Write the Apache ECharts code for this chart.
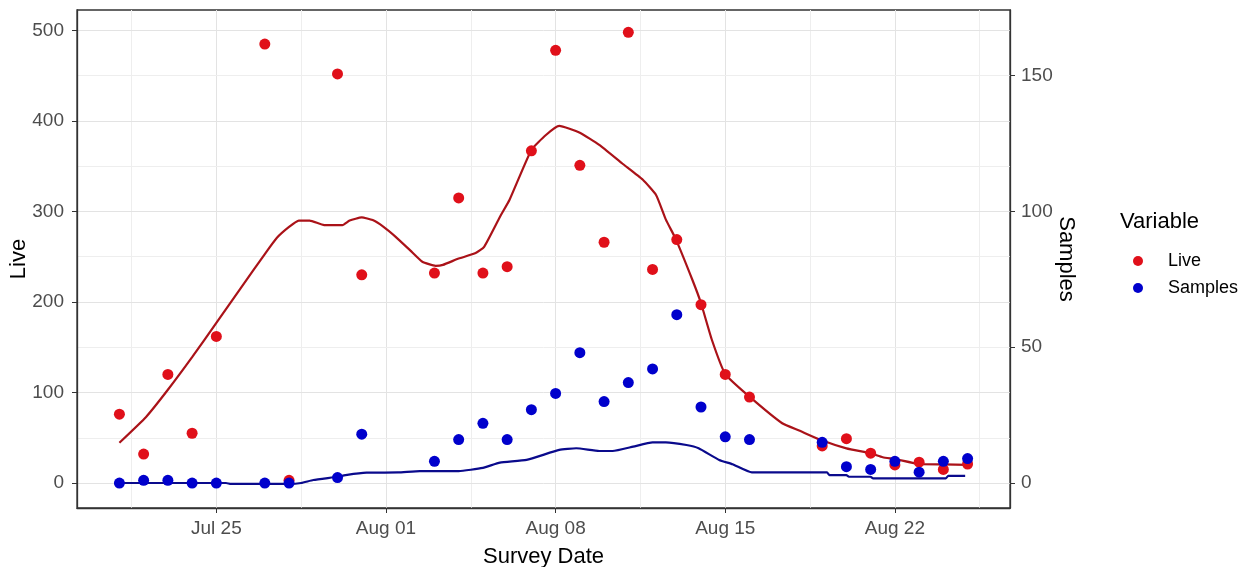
<!DOCTYPE html>
<html>
<head>
<meta charset="utf-8">
<script src="https://cdn.jsdelivr.net/npm/echarts@6/dist/echarts.min.js"></script>
<style>html,body{margin:0;padding:0;background:#fff}#c{width:1260px;height:567px}</style>
</head>
<body>
<div id="c"></div>
<script>
// ---- data ----
const surveyDates = ['2021-07-21','2021-07-22','2021-07-23','2021-07-24','2021-07-25','2021-07-27','2021-07-28','2021-07-30','2021-07-31',
  '2021-08-03','2021-08-04','2021-08-05','2021-08-06','2021-08-07','2021-08-08','2021-08-09','2021-08-10','2021-08-11','2021-08-12',
  '2021-08-13','2021-08-14','2021-08-15','2021-08-16','2021-08-19','2021-08-20','2021-08-21','2021-08-22','2021-08-23','2021-08-24','2021-08-25'];
const liveValues = [76,32,120,55,162,485,3,452,230,232,315,232,239,367,478,351,266,498,236,269,197,120,95,41,49,33,20,23,15,21];
const sampleValues = [0,1,1,0,0,0,0,2,18,8,16,22,16,27,33,48,30,37,42,62,28,17,16,15,6,5,8,4,8,9];

// smoothed trend lines: day offset from Jul 25, value
const liveTrendDays = [-4,-2.9,-2,-1,0,1,2,2.5,3,3.4,3.85,4.45,5.2,5.5,6,6.45,6.9,7.4,8,8.5,9.05,9.35,10,10.7,11.05,11.7,12.1,13,13.6,14.15,15,15.8,16.75,17.6,18.15,18.55,18.95,19.65,20,20.45,21,22,23.35,24.05,24.95,26,27,27.5,28,29,30,31];
const liveTrendValues = [44.5,73,103,139,177,215,253,271,283,290,290,285,285,290,293.5,290.5,283,272,257,244.5,240,241,248,254,261,294,313,368,384.5,394.5,387,373.5,353,335,318,291,270,224,198.6,158,120.4,95.4,66,58,47.5,38.3,32.8,28.5,26.5,21,20.5,20];
const sampleTrendDays = [-4,0.4,0.6,3,3.5,4,5,5.4,6.2,7.5,8.4,10,11,11.7,12.8,14.15,14.85,15.8,16.35,17.2,18,18.55,19.4,19.9,20.75,21.3,22.1,25.2,25.3,26,26.1,27,27.1,30.1,30.2,30.9];
const sampleTrendValues = [0,0,-0.35,-0.35,0,1.1,2.3,3,3.8,3.9,4.4,4.4,5.6,7.5,8.5,12.2,12.8,11.8,11.8,13.4,15,15,14,12.8,8.5,6.9,3.9,3.9,2.9,2.9,2.3,2.3,1.7,1.7,2.6,2.6];

// axis ticks (x in days from Jul 25)
const xTickDays = [0,7,14,21,28];
const xTickLabels = ['Jul 25','Aug 01','Aug 08','Aug 15','Aug 22'];
const xMinorGridDays = [-3.5,3.5,10.5,17.5,24.5,31.5];
const liveTicks = [0,100,200,300,400,500];
const liveMinorGrid = [50,150,250,350,450];
const sampleTicks = [0,50,100,150];

// ---- build ----
const DAY = 86400000;
const toTs = s => { const p = s.split('-').map(Number); return Date.UTC(p[0], p[1]-1, p[2]); };
const base = toTs('2021-07-25');
const toDay = s => Math.round((toTs(s) - base) / DAY);
const xMin = -5.75, xMax = 32.75;
const yMin = -27.6, yMax = 522.6;
const FONT = 'Liberation Sans, Arial, sans-serif';

const gridLines = [];
xTickDays.forEach(d => gridLines.push({xAxis: d, lineStyle: {color: '#E3E3E3', width: 1, type: 'solid'}}));
xMinorGridDays.forEach(d => gridLines.push({xAxis: d, lineStyle: {color: '#EEEEEE', width: 1, type: 'solid'}}));
liveTicks.forEach(v => gridLines.push({yAxis: v, lineStyle: {color: '#E3E3E3', width: 1, type: 'solid'}}));
liveMinorGrid.forEach(v => gridLines.push({yAxis: v, lineStyle: {color: '#EEEEEE', width: 1, type: 'solid'}}));

const chart = echarts.init(document.getElementById('c'), null, {renderer: 'canvas'});
chart.setOption({
  animation: false,
  textStyle: {fontFamily: FONT},
  title: {text: 'Variable', left: 1120, top: 211, padding: 0,
    textStyle: {fontSize: 22, fontWeight: 'normal', color: '#000', fontFamily: FONT}},
  legend: {
    data: ['Live', 'Samples'], orient: 'vertical', left: 1128, top: 247,
    itemWidth: 10, itemHeight: 10, itemGap: 9, icon: 'circle',
    textStyle: {fontSize: 18, color: '#000', padding: [0, 0, 0, 20], fontFamily: FONT}
  },
  grid: {left: 77, right: 250, top: 10, bottom: 59, outerBoundsMode: 'none', containLabel: false,
    show: true, borderColor: '#333', borderWidth: 1.3, backgroundColor: '#fff'},
  xAxis: {
    type: 'value', min: xMin, max: xMax,
    axisLine: {show: true, onZero: false, lineStyle: {color: '#333', width: 1.3}},
    axisTick: {show: true, customValues: xTickDays, length: 5, lineStyle: {color: '#333'}},
    axisLabel: {customValues: xTickDays, fontSize: 19, color: '#4D4D4D', margin: 11, fontFamily: FONT,
      formatter: v => { const i = xTickDays.indexOf(v); return i >= 0 ? xTickLabels[i] : ''; }},
    splitLine: {show: false},
    name: 'Survey Date', nameLocation: 'middle', nameGap: 38,
    nameTextStyle: {fontSize: 22, color: '#000', fontFamily: FONT}
  },
  yAxis: [{
    type: 'value', min: yMin, max: yMax, position: 'left',
    axisLine: {show: true, onZero: false, lineStyle: {color: '#333', width: 1.3}},
    axisTick: {show: true, customValues: liveTicks, length: 5, lineStyle: {color: '#333'}},
    axisLabel: {customValues: liveTicks, fontSize: 19, color: '#4D4D4D', margin: 13, fontFamily: FONT},
    splitLine: {show: false},
    name: 'Live', nameLocation: 'middle', nameGap: 47, nameMoveOverlap: false,
    nameTextStyle: {fontSize: 22, color: '#000', fontFamily: FONT}
  }, {
    type: 'value', min: yMin / 3, max: yMax / 3, position: 'right',
    axisLine: {show: true, onZero: false, lineStyle: {color: '#333', width: 1.3}},
    axisTick: {show: true, customValues: sampleTicks, length: 5, lineStyle: {color: '#333'}},
    axisLabel: {customValues: sampleTicks, fontSize: 19, color: '#4D4D4D', margin: 11, fontFamily: FONT},
    splitLine: {show: false},
    name: 'Samples', nameLocation: 'middle', nameGap: 45, nameRotate: -90, nameMoveOverlap: false,
    nameTextStyle: {fontSize: 22, color: '#000', fontFamily: FONT}
  }],
  series: [
    {name: 'grid', type: 'line', data: [], z: 0, silent: true,
     markLine: {silent: true, symbol: ['none', 'none'], label: {show: false}, animation: false, z: 0, data: gridLines}},
    {name: 'Live trend', type: 'line', yAxisIndex: 0, showSymbol: false, smooth: 0.15, z: 2,
     lineStyle: {color: '#AA1218', width: 2.2},
     data: liveTrendDays.map((d, i) => [d, liveTrendValues[i]])},
    {name: 'Samples trend', type: 'line', yAxisIndex: 1, showSymbol: false, smooth: 0.15, z: 2,
     lineStyle: {color: '#0A0A8C', width: 2.2},
     data: sampleTrendDays.map((d, i) => [d, sampleTrendValues[i]])},
    {name: 'Live', type: 'scatter', yAxisIndex: 0, symbolSize: 11, z: 3,
     itemStyle: {color: '#E0101A', opacity: 1},
     data: surveyDates.map((s, i) => [toDay(s), liveValues[i]])},
    {name: 'Samples', type: 'scatter', yAxisIndex: 1, symbolSize: 11, z: 4,
     itemStyle: {color: '#0000CC', opacity: 1},
     data: surveyDates.map((s, i) => [toDay(s), sampleValues[i]])}
  ]
});
</script>
</body>
</html>
